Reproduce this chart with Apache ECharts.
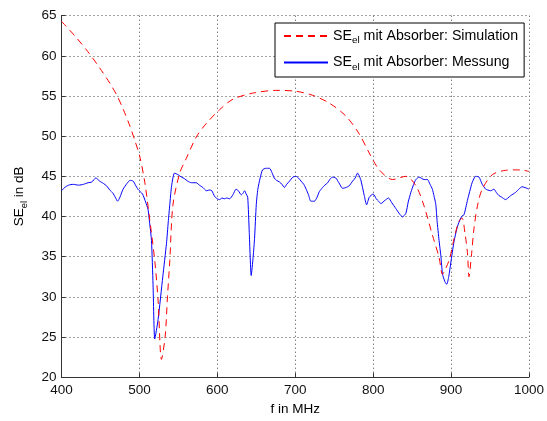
<!DOCTYPE html>
<html>
<head>
<meta charset="utf-8">
<script src="https://cdn.jsdelivr.net/npm/echarts@6/dist/echarts.min.js"></script>
<style>
html,body{margin:0;padding:0;background:#fff;}
#chart{width:547px;height:421px;}
</style>
</head>
<body>
<div id="chart"></div>
<script>
// Simulation (red dashed)
var simFreq = [400,417,434,449,462,471,479,488,494,500.5,507,513,519.7,524,528.3,533,536,539,543,551.7,560,573,586,603,620,645,675,700,722,744,765,782,795,808,825,842,855,865,876,884.6,889,893,898,904,910,914,918,921,923,926,929.4,934,940,953,970,983,993,1000];
var simVals = [64.3,62.5,60.5,58.5,56.6,55.1,53.4,51.2,49.5,47.45,44.2,39.8,34.5,29.5,22.2,25.0,30,34.5,41.4,45.4,47.2,49.9,51.6,53.3,54.6,55.35,55.7,55.6,55.1,54.1,52.5,50.3,47.9,45.8,44.6,45.0,43.8,41.4,37.7,34.9,32.8,33.5,34.7,37.3,39.4,39.8,37.8,35.5,32.5,35,38.5,41.4,43.4,45.2,45.75,45.8,45.75,45.6];

// Measurement (blue solid)
var measFreq = [400,404,409,415,422,428,434,439,444,449,454,458,462,466,469,472,475,479,484,488,492,495,498,501,504,508,511,513,515.5,517.5,519.7,524,530,534.7,537,539,541,543,545,549.6,554,558,562,566.7,570,573,577,581.6,586,590,593,596.5,600,603,606,609,612,615.7,620,624,627,630.7,633,635,637,639,641,643.5,646,647.8,650,652,655,658,662,667,670,673,676,679.8,683,686,689,692.6,697,701,704,707.5,711,714,717,720,724.6,728,731,735,738,741.6,745,748,752,756,760.8,765,769,773.6,777,780,784,788.6,791.6,795,800,804,807,810,815,819.7,824,829,834,837.6,842,845,848.4,852,854.8,859,865.4,869.7,873,876,878,880.4,882,884.6,887,889,892,894.5,897,899.6,903.8,908,912.4,914.5,916.6,921,927,931.6,935.9,940,944.5,947,950.8,955,958,961.5,965,970,973,976.5,982.8,987,991,995,1000];
var measVals = [43.2,43.6,43.9,44.0,43.9,44.0,44.2,44.3,44.8,44.4,44.1,43.8,43.3,42.9,42.4,41.9,42.4,43.4,44.1,44.5,44.4,43.9,43.4,43.1,42.8,41.8,40.9,39.3,37.0,31.5,24.75,27.2,32.5,36.6,39.3,41.5,43.6,44.8,45.4,45.2,44.9,44.7,44.4,44.2,44.2,44.2,43.9,43.6,43.2,43.3,43.2,42.5,42.2,42.1,42.3,42.2,42.3,42.2,42.7,43.4,43.2,42.7,42.9,43.2,42.8,42.4,38,32.65,35,37.3,41.5,43.4,44.8,45.8,46.0,46.0,45.5,44.8,44.5,44.3,44.0,43.6,44.0,44.4,44.9,45.0,44.8,44.4,44.0,43.4,42.7,41.9,41.9,42.4,43.1,43.6,43.9,44.2,44.7,44.9,44.8,44.2,43.5,43.6,43.8,44.4,44.8,45.4,44.6,42.6,41.45,42.4,42.8,42.2,41.9,41.6,42.0,42.3,41.7,41.0,40.3,39.95,40.4,41.8,43.0,44.0,44.6,44.9,44.6,44.6,44.0,43.4,42.6,41.5,39.5,37.0,35.0,32.85,31.9,31.55,32.5,34.2,36.9,38.7,39.8,40.1,40.2,42.0,44.2,45.0,44.9,44.0,43.4,43.3,43.2,43.4,43.0,42.6,42.4,42.1,42.3,42.6,43.0,43.4,43.7,43.6,43.4];

var xTicks = [400,500,600,700,800,900,1000];
var yTicks = [20,25,30,35,40,45,50,55,60,65];

function pairs(xs, ys){ var out=[]; for(var i=0;i<xs.length;i++) out.push([xs[i], ys[i]]); return out; }

var FONT = '"Liberation Sans", Arial, Helvetica, sans-serif';
function makeRich(fs){
  return {
    a: {fontFamily: FONT, fontSize: fs, color: '#000'},
    b: {fontFamily: FONT, fontSize: fs*0.7, color: '#000', padding: [9,0,0,0]}
  };
}

var chart = echarts.init(document.getElementById('chart'), null, {renderer: 'canvas'});
chart.setOption({
  animation: false,
  backgroundColor: '#fff',
  grid: {left: 61.5, right: 17, top: 15.7, bottom: 35.3, containLabel: false},
  xAxis: {
    type: 'value', min: xTicks[0], max: xTicks[xTicks.length-1], interval: 100,
    name: 'f in MHz', nameLocation: 'middle', nameGap: 22,
    nameTextStyle: {fontFamily: FONT, fontSize: 13.5, color: '#000'},
    axisLine: {show: true, onZero: false, lineStyle: {color: '#333', width: 1}},
    axisTick: {show: true, inside: true, length: 4, lineStyle: {color: '#333'}},
    axisLabel: {fontFamily: FONT, fontSize: 13.5, color: '#111', margin: 6,
      formatter: function(v){ return String(v); }},
    splitLine: {show: true, lineStyle: {color: '#444', type: [1,3], width: 1}}
  },
  yAxis: {
    type: 'value', min: yTicks[0], max: yTicks[yTicks.length-1], interval: 5,
    name: '{a|SE}{b|el}{a| in dB}', nameLocation: 'middle', nameGap: 33, nameRotate: 90,
    nameTextStyle: {rich: makeRich(13.5)},
    axisLine: {show: true, onZero: false, lineStyle: {color: '#333', width: 1}},
    axisTick: {show: true, inside: true, length: 4, lineStyle: {color: '#333'}},
    axisLabel: {fontFamily: FONT, fontSize: 13.5, color: '#111', margin: 5},
    splitLine: {show: true, lineStyle: {color: '#444', type: [1,3], width: 1}}
  },
  legend: {
    orient: 'vertical', left: 275, top: 23,
    padding: [6, 6, 5, 8], itemGap: 10,
    itemWidth: 44, itemHeight: 14,
    backgroundColor: '#fff', borderColor: '#000', borderWidth: 1,
    borderRadius: 0,
    itemStyle: {opacity: 0},
    formatter: function(name){
      return name === 'sim' ? '{a|SE}{b|el}{a| mit Absorber: Simulation}' : '{a|SE}{b|el}{a| mit Absorber: Messung}';
    },
    textStyle: {rich: makeRich(14.2)},
    data: ['sim', 'meas']
  },
  series: [
    {
      name: 'sim', type: 'line', data: pairs(simFreq, simVals),
      symbol: 'none', smooth: 0.3, z: 3,
      lineStyle: {color: '#ff0000', width: 1, type: [7,5]},
      itemStyle: {color: '#ff0000'}
    },
    {
      name: 'meas', type: 'line', data: pairs(measFreq, measVals),
      symbol: 'none', smooth: 0.2, z: 2,
      lineStyle: {color: '#0000ff', width: 1},
      itemStyle: {color: '#0000ff'}
    }
  ]
});
</script>
</body>
</html>
